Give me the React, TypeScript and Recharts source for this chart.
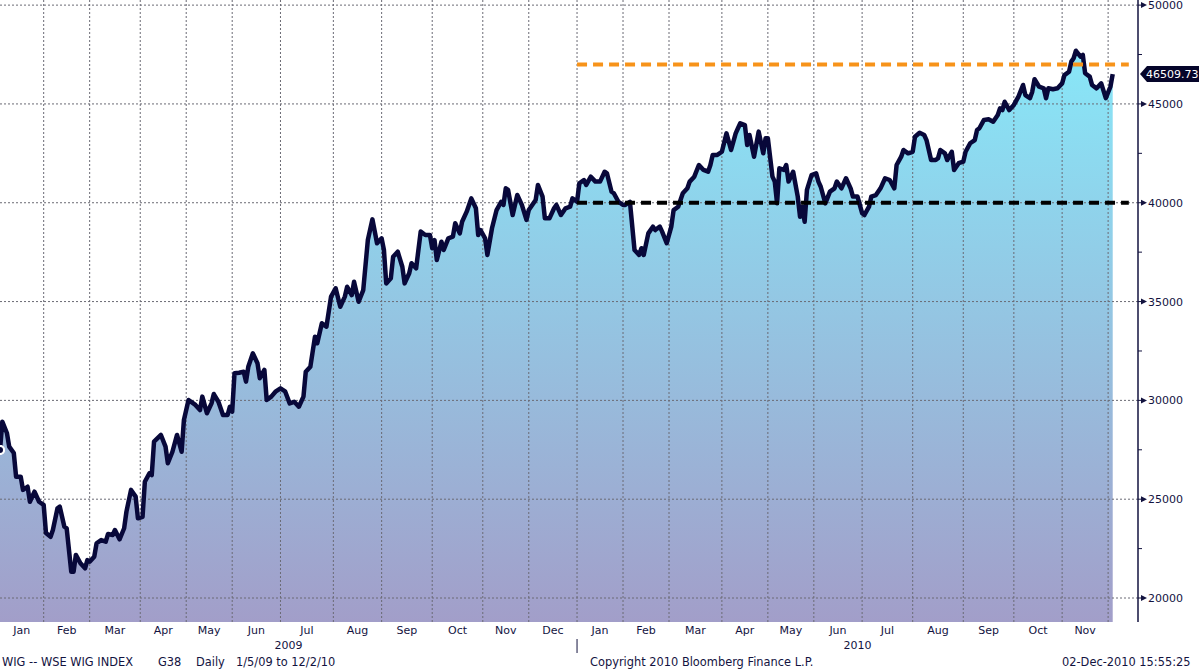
import {
  ComposedChart,
  Area,
  Line,
  XAxis,
  YAxis,
  ReferenceLine,
  ReferenceDot,
} from "recharts";

// trading session number since 1/5/09, and WIG close
const session = [
  0, 1, 3, 4, 6, 7, 9, 10, 12, 13, 15, 17, 19, 20, 22, 23, 25, 26, 28, 29, 31, 32, 33, 35, 37, 38, 39, 41, 42, 44,
  46, 47, 49, 50, 52, 54, 55, 57, 59, 60, 62, 63, 65, 66, 67, 70, 72, 73, 75, 77, 79, 80, 82, 85, 87, 88, 90, 92,
  93, 95, 97, 99, 100, 101, 102, 104, 106, 107, 108, 110, 112, 113, 115, 116, 118, 120, 122, 124, 126, 128, 130,
  132, 133, 135, 137, 138, 140, 142, 144, 146, 148, 150, 151, 153, 154, 156, 158, 160, 162, 164, 166, 167, 168,
  170, 171, 173, 175, 176, 178, 179, 181, 183, 185, 187, 188, 189, 190, 192, 193, 195, 197, 198, 200, 201, 203,
  205, 207, 208, 209, 211, 212, 214, 216, 218, 219, 220, 221, 223, 225, 227, 229, 230, 233, 234, 236, 237, 239,
  241, 242, 244, 246, 248, 249, 251, 252, 254, 255, 257, 259, 261, 263, 264, 266, 267, 269, 271, 272, 274, 276,
  278, 279, 280, 282, 284, 285, 287, 288, 290, 292, 293, 295, 297, 299, 300, 302, 304, 306, 308, 309, 310, 312,
  314, 316, 318, 320, 321, 322, 324, 325, 326, 328, 330, 332, 333, 334, 336, 337, 338, 339, 341, 342, 343, 345,
  347, 348, 349, 350, 351, 353, 355, 356, 357, 359, 361, 363, 364, 366, 368, 370, 371, 373, 375, 376, 378, 379,
  381, 383, 385, 387, 389, 390, 392, 393, 395, 397, 398, 400, 402, 403, 405, 407, 408, 409, 411, 412, 414, 415,
  417, 419, 420, 422, 424, 425, 426, 428, 430, 432, 434, 435, 436, 437, 439, 441, 443, 445, 446, 448, 449, 450,
  452, 454, 455, 456, 458, 460, 462, 463, 465, 466, 467, 468, 470, 471, 472, 474, 475, 477, 479, 481, 483, 484,
];

const wig = [
  27490, 28920, 28350, 27660, 27340, 26140, 26140, 25470, 25630, 24870, 25380, 24870, 24710, 23290, 23100, 23440,
  24540, 24620, 23610, 23530, 21330, 21330, 22180, 21760, 21500, 21920, 21840, 22090, 22770, 22930, 22850, 23240,
  23190, 23440, 22970, 23530, 24370, 25470, 25130, 24030, 24110, 25880, 26310, 26220, 27910, 28250, 27660, 26820,
  27400, 28250, 27400, 29010, 30020, 29770, 29510, 30190, 29350, 29850, 30320, 29930, 29260, 29260, 29680, 29430,
  31370, 31400, 31450, 30950, 31700, 32380, 31880, 31120, 31540, 30020, 30190, 30460, 30610, 30460, 29850, 29930,
  29680, 30190, 31450, 31700, 33220, 32890, 33900, 33730, 35250, 35670, 34740, 35250, 35750, 35330, 36000, 34990,
  35580, 38110, 39160, 37950, 38200, 37610, 35920, 36180, 37270, 37520, 36760, 35920, 36430, 36940, 36680, 38540,
  38370, 38370, 37700, 38110, 37100, 38030, 37610, 38200, 38280, 38960, 38450, 39040, 39550, 40220, 39720, 38370,
  38620, 38200, 37360, 38710, 39630, 40050, 39890, 40730, 40650, 39380, 40390, 39890, 39130, 39630, 40140, 40900,
  40310, 39210, 39210, 39720, 39890, 39380, 39720, 39800, 40220, 40050, 40980, 41150, 40900, 41320, 41070, 41070,
  41570, 41490, 40560, 40480, 40050, 39890, 39890, 40050, 37610, 37360, 37700, 37360, 38450, 38790, 38620, 38790,
  38540, 37950, 38790, 39630, 39800, 40480, 40730, 41070, 41320, 41910, 41660, 41570, 41910, 42420, 42420, 42580,
  43510, 42670, 43510, 43770, 44020, 43930, 42920, 43430, 42330, 43600, 42500, 43260, 43260, 41320, 41070, 39970,
  41740, 41660, 41910, 41070, 41570, 40310, 39290, 39800, 39040, 40650, 41400, 41490, 41070, 40810, 39970, 40560,
  40730, 41070, 40730, 41240, 40730, 40310, 40310, 39470, 39380, 39800, 40310, 40390, 40730, 41240, 41150, 40730,
  41910, 42330, 42670, 42500, 42580, 43340, 43540, 43430, 43170, 42160, 42160, 42250, 42670, 42500, 42160, 42580,
  41660, 42000, 42080, 42580, 43010, 43170, 43680, 43770, 44190, 44220, 44100, 44440, 44780, 44690, 45110, 44690,
  44950, 45370, 45960, 45450, 45290, 45620, 46250, 45870, 45790, 45290, 45790, 45740, 45790, 46040, 46460, 46630,
  47140, 47310, 47690, 47390, 47480, 46550, 46380, 45960, 45790, 46040, 45290, 45870, 46509.73,
];

// first session of each month, Jan 2009 .. Dec 2010 (last = final session)
const monthStart = [0, 19, 39, 61, 81, 101, 122, 145, 166, 188, 210, 230, 251, 271, 291, 314, 334, 354, 375, 397, 419, 441, 462, 482, 484];
const monthNames = ["Jan", "Feb", "Mar", "Apr", "May", "Jun", "Jul", "Aug", "Sep", "Oct", "Nov", "Dec", "Jan", "Feb", "Mar", "Apr", "May", "Jun", "Jul", "Aug", "Sep", "Oct", "Nov"];
const years = ["2009", "2010"];
const yearStart = [0, 251];

const xMax = 495;
const yMin = 18786;
const yMax = 50259;
const majorTicks = [20000, 25000, 30000, 35000, 40000, 45000, 50000];
const minorTicks = [22500, 27500, 32500, 37500, 42500, 47500];
const last = 46509.73;
const support = 40000;
const resistance = 47000;
const levelFrom = 251;
const levelTo = 491;

const INK = "#13133f";
const FONT = "'DejaVu Sans', Verdana, sans-serif";
const GRIDC = "#6a6a74";

const data = session.map((s, i) => ({ s, v: wig[i] }));
const monthMid = monthNames.map((_, i) => (monthStart[i] + monthStart[i + 1]) / 2);
const yearTicks = [(yearStart[0] + yearStart[1]) / 2, yearStart[1], (yearStart[1] + xMax) / 2];

function MonthTick({ x, y, index }: any) {
  return (
    <text x={x} y={y + 12} textAnchor="middle" fontSize={11} fontFamily={FONT} fill={INK}>
      {monthNames[index]}
    </text>
  );
}

function YearTick({ x, y, index }: any) {
  if (index === 1) return <line x1={x} x2={x} y1={y - 1} y2={y + 13} stroke={INK} strokeWidth={1} />;
  return (
    <text x={x} y={y + 9} textAnchor="middle" fontSize={11} fontFamily={FONT} fill={INK}>
      {years[index === 0 ? 0 : 1]}
    </text>
  );
}

function PriceTick({ x, y, payload }: any) {
  const major = majorTicks.includes(payload.value);
  if (!major) return <line x1={x} x2={x + 4} y1={y} y2={y} stroke={INK} strokeWidth={1} />;
  return (
    <g>
      <line x1={x} x2={x + 4} y1={y} y2={y} stroke={INK} strokeWidth={1} />
      <polygon points={`${x + 3},${y - 3} ${x + 9},${y} ${x + 3},${y + 3}`} fill={INK} />
      <text x={x + 10} y={y} dy={4} fontSize={11} fontFamily={FONT} fill={INK}>
        {payload.value}
      </text>
    </g>
  );
}

function LastLabel({ cx, cy }: any) {
  return (
    <g>
      <polygon
        points={`${cx + 2},${cy} ${cx + 9},${cy - 8} ${cx + 61},${cy - 8} ${cx + 61},${cy + 8} ${cx + 9},${cy + 8}`}
        fill="#05052a"
      />
      <text x={cx + 8} y={cy} dy={4} fontSize={11} fontFamily={FONT} fill="#fff">
        {last.toFixed(2)}
      </text>
    </g>
  );
}

const footer = { position: "absolute" as const, top: 655, fontSize: 11.4, fontFamily: FONT, color: INK, whiteSpace: "nowrap" as const };

export default function App() {
  return (
    <div style={{ position: "absolute", left: 0, top: 0, width: 1200, height: 672, background: "#fff", overflow: "hidden" }}>
      <ComposedChart width={1200} height={672} data={data} margin={{ top: 0, right: 0, bottom: 18, left: 0 }}>
        <defs>
          <linearGradient id="wigFill" x1="0" y1="0" x2="0" y2="1">
            <stop offset="0%" stopColor="#88e7f8" />
            <stop offset="100%" stopColor="#a29ec9" />
          </linearGradient>
        </defs>
        <XAxis
          xAxisId={0}
          dataKey="s"
          type="number"
          domain={[0, xMax]}
          ticks={monthStart.slice(1, 24)}
          height={0}
          tick={false}
          tickSize={3}
          tickLine={{ stroke: INK }}
          axisLine={{ stroke: INK, strokeWidth: 1.5 }}
        />
        <XAxis
          xAxisId="m"
          dataKey="s"
          type="number"
          domain={[0, xMax]}
          ticks={monthMid}
          interval={0}
          height={18}
          tickSize={0}
          tickMargin={0}
          tickLine={false}
          axisLine={false}
          tick={<MonthTick />}
        />
        <XAxis
          xAxisId="y"
          dataKey="s"
          type="number"
          domain={[0, xMax]}
          ticks={yearTicks}
          interval={0}
          height={14}
          tickSize={0}
          tickMargin={0}
          tickLine={false}
          axisLine={false}
          tick={<YearTick />}
        />
        <YAxis
          orientation="right"
          type="number"
          domain={[yMin, yMax]}
          ticks={[...majorTicks, ...minorTicks].sort((a, b) => a - b)}
          interval={0}
          width={62}
          tickSize={0}
          tickMargin={0}
          tickLine={false}
          axisLine={{ stroke: INK, strokeWidth: 1.5 }}
          tick={<PriceTick />}
        />
        <Area
          type="linear"
          dataKey="v"
          stroke="none"
          fill="url(#wigFill)"
          fillOpacity={1}
          baseValue={yMin}
          isAnimationActive={false}
        />
        {majorTicks.map((t) => (
          <ReferenceLine key={"h" + t} y={t} stroke={GRIDC} strokeDasharray="2 2" strokeWidth={1} />
        ))}
        {monthStart.slice(1, 24).map((m) => (
          <ReferenceLine key={"v" + m} x={m} stroke={GRIDC} strokeDasharray="2 2" strokeWidth={1} />
        ))}
        <Line
          type="linear"
          dataKey="v"
          stroke="#08083a"
          strokeWidth={4.5}
          strokeLinejoin="round"
          dot={false}
          isAnimationActive={false}
        />
        <ReferenceLine
          segment={[{ x: levelFrom, y: support }, { x: levelTo, y: support }]}
          stroke="#000"
          strokeWidth={4}
          strokeDasharray="10 6"
        />
        <ReferenceLine
          segment={[{ x: levelFrom, y: resistance }, { x: levelTo, y: resistance }]}
          stroke="#f7931a"
          strokeWidth={4}
          strokeDasharray="10 6"
        />
        <ReferenceDot x={xMax} y={last} r={0} ifOverflow="visible" shape={<LastLabel />} />
      </ComposedChart>
      <span style={{ ...footer, left: 2 }}>WIG -- WSE WIG INDEX</span>
      <span style={{ ...footer, left: 158 }}>G38</span>
      <span style={{ ...footer, left: 196 }}>Daily</span>
      <span style={{ ...footer, left: 236 }}>1/5/09 to 12/2/10</span>
      <span style={{ ...footer, left: 590 }}>Copyright 2010 Bloomberg Finance L.P.</span>
      <span style={{ ...footer, left: 1062 }}>02-Dec-2010 15:55:25</span>
    </div>
  );
}
